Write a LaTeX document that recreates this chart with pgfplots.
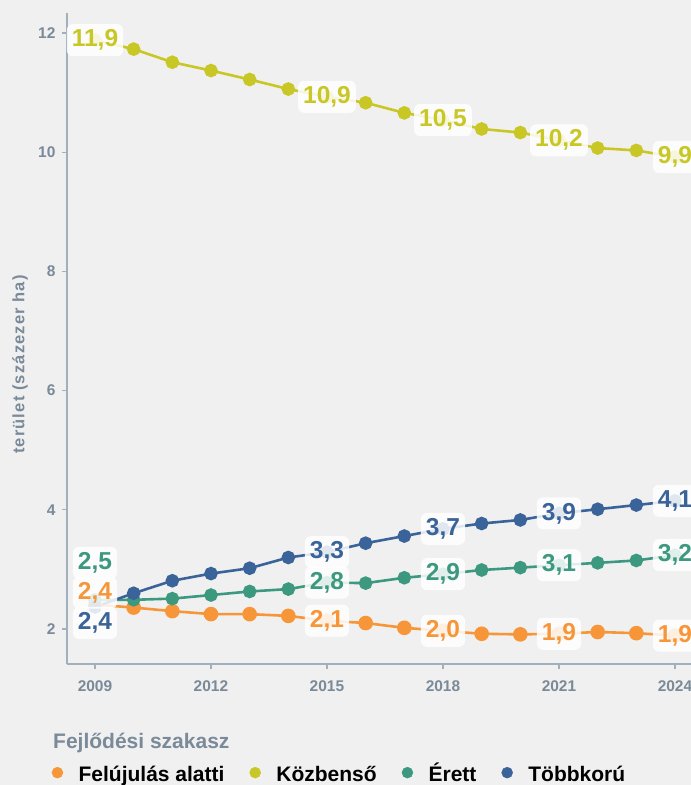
\documentclass[border=0pt]{standalone}
\usepackage{pgfplots}
\pgfplotsset{compat=1.18}
\usepackage{pgfplotstable}
\usepackage{fontspec}
\setmainfont{Liberation Sans}
\definecolor{bg}{RGB}{240,240,240}
\definecolor{axgray}{RGB}{160,176,189}
\definecolor{txtgray}{RGB}{122,138,153}
\definecolor{cOr}{RGB}{247,150,57}
\definecolor{cYe}{RGB}{200,199,37}
\definecolor{cGr}{RGB}{60,153,128}
\definecolor{cBl}{RGB}{58,100,153}
\pgfplotstableread{
year fel koz ere tob
2009 2.41 11.88 2.49 2.37
2010 2.36 11.73 2.49 2.60
2011 2.30 11.51 2.51 2.81
2012 2.25 11.37 2.57 2.93
2013 2.25 11.22 2.63 3.02
2014 2.22 11.06 2.67 3.20
2015 2.14 10.93 2.78 3.29
2016 2.10 10.83 2.77 3.44
2017 2.02 10.66 2.86 3.56
2018 1.97 10.54 2.92 3.68
2019 1.92 10.39 2.99 3.77
2020 1.91 10.33 3.03 3.83
2021 1.92 10.20 3.07 3.94
2022 1.95 10.07 3.11 4.01
2023 1.93 10.03 3.15 4.08
2024 1.89 9.92 3.24 4.15
}\data
\pgfplotsset{
  lab/.style={draw=none, forget plot, nodes near coords, point meta=explicit symbolic,
    every node near coord/.append style={anchor=center, fill=white, fill opacity=0.85,
      text opacity=1, rounded corners=6pt, inner xsep=5pt, inner ysep=0pt,
      minimum height=32pt, font=\fontsize{24.5}{24.5}\selectfont\bfseries, text=#1}},
}
\begin{document}
\begin{tikzpicture}
\useasboundingbox[fill=bg] (0,0) rectangle (691pt,785pt);
\clip (0,0) rectangle (691pt,785pt);
\begin{axis}[
  at={(67pt,121pt)}, anchor=south west,
  scale only axis, width=624pt, height=651pt,
  xmin=2008.276, xmax=2024.414, ymin=1.413, ymax=12.336,
  clip=false,
  axis x line*=bottom, axis y line*=left,
  axis line style={draw=axgray, line width=1.2pt},
  xtick={2009,2012,...,2024}, ytick={2,4,...,12},
  tick align=outside, major tick length=5pt,
  tick style={draw=axgray, line width=1.2pt},
  xticklabel style={font=\fontsize{15.5}{16}\selectfont\bfseries, text=txtgray, yshift=-8pt},
  yticklabel style={font=\fontsize{15.5}{16}\selectfont\bfseries, text=txtgray, xshift=-3pt},
  /pgf/number format/assume math mode=true,
  /pgf/number format/1000 sep={},
  ylabel={\addfontfeature{LetterSpace=7}terület (százezer ha)},
  every axis y label/.style={at={(axis description cs:-0.0753,0.46)}, rotate=90, anchor=center,
    font=\fontsize{16.5}{16.5}\selectfont\bfseries, text=txtgray},
  legend style={at={(axis description cs:-0.0296,-0.1715)}, anchor=west, draw=none, fill=none,
    legend columns=4, font=\fontsize{21}{21}\selectfont\bfseries,
    nodes={inner sep=0pt, text height=15pt, text depth=4pt},
    /tikz/every odd column/.append style={column sep=15.5pt},
    /tikz/every even column/.append style={column sep=25pt}},
  legend image code/.code={\fill[#1] (0pt,3pt) circle (5.5pt);},
]
\addplot[cOr, line width=2.6pt, mark=*, mark size=6pt, forget plot] table[x=year,y=fel] {\data};
\addplot[cYe, line width=2.6pt, mark=*, mark size=5.5pt, forget plot] table[x=year,y=koz] {\data};
\addplot[cGr, line width=2.6pt, mark=*, mark size=5.5pt, forget plot] table[x=year,y=ere] {\data};
\addplot[cBl, line width=2.6pt, mark=*, mark size=5.5pt, forget plot] table[x=year,y=tob] {\data};

\addplot[lab=cYe] table[meta=lab] {
x y lab
2009 11.88 11,9
2015 10.93 10,9
2018 10.54 10,5
2021 10.20 10,2
2024 9.92 9,9
};
\addplot[lab=cBl] table[meta=lab] {
x y lab
2015 3.29 3,3
2018 3.68 3,7
2021 3.94 3,9
2024 4.15 4,1
};
\addplot[lab=cGr] table[meta=lab] {
x y lab
2015 2.78 2,8
2018 2.92 2,9
2021 3.07 3,1
2024 3.24 3,2
};
\addplot[lab=cOr] table[meta=lab] {
x y lab
2015 2.14 2,1
2018 1.97 2,0
2021 1.92 1,9
2024 1.89 1,9
};
\addplot[lab=cGr, nodes near coords style={yshift=37pt}] table[meta=lab] {
x y lab
2009 2.49 2,5
};
\addplot[lab=cOr, nodes near coords style={yshift=12pt}] table[meta=lab] {
x y lab
2009 2.41 2,4
};
\addplot[lab=cBl, nodes near coords style={yshift=-16pt}] table[meta=lab] {
x y lab
2009 2.37 2,4
};

\addlegendimage{cOr}\addlegendentry{Felújulás alatti}
\addlegendimage{cYe}\addlegendentry{Közbenső}
\addlegendimage{cGr}\addlegendentry{Érett}
\addlegendimage{cBl}\addlegendentry{Többkorú}
\end{axis}
\node[anchor=west, inner sep=0pt, font=\fontsize{21}{21}\selectfont\bfseries, text=txtgray] at (53pt,42pt) {Fejlődési szakasz};
\end{tikzpicture}
\end{document}
